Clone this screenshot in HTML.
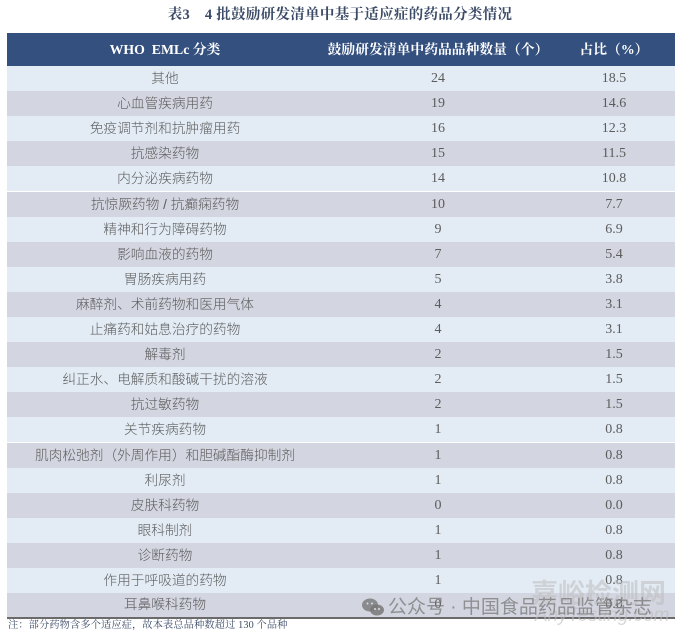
<!DOCTYPE html>
<html><head><meta charset="utf-8">
<style>
html,body{margin:0;padding:0;background:#fff;}
body{width:680px;height:636px;position:relative;overflow:hidden;font-family:"Liberation Sans","Noto Sans CJK SC",sans-serif;}
.title{position:absolute;left:0;width:680px;top:4px;text-align:center;font-family:"Liberation Serif","Noto Serif CJK SC",serif;font-weight:bold;font-size:14.5px;color:#3b4a66;line-height:22px;letter-spacing:0.3px;}
.hdr{position:absolute;left:7px;top:33px;width:668px;height:33px;background:#34507f;}
.hc{position:absolute;top:0;height:33px;line-height:33px;color:#fff;font-family:"Liberation Serif","Noto Serif CJK SC",serif;font-weight:bold;font-size:13.8px;text-align:center;white-space:nowrap;}
.row{position:absolute;left:7px;width:668px;}
.odd{background:#e3ecf5;}
.even{background:#d3d5e0;}
.c{position:absolute;top:0;text-align:center;white-space:nowrap;color:#5c5c5c;}
.c1{left:0;width:316px;font-size:13.7px;font-family:"Liberation Sans","Noto Sans CJK SC",sans-serif;font-weight:300;}
.c2{left:316px;width:230px;font-size:14px;font-family:"Liberation Serif",serif;}
.c3{left:546px;width:122px;font-size:14px;font-family:"Liberation Serif",serif;}
.bl{position:absolute;left:7px;top:617px;width:668px;height:1.5px;background:#6a6a6a;}
.note{position:absolute;left:8px;top:619px;font-size:10.2px;line-height:14px;color:#3b4a66;font-family:"Liberation Serif","Noto Serif CJK SC",serif;white-space:nowrap;letter-spacing:0.15px;}
.wm1{position:absolute;left:531px;top:572px;font-size:27px;color:rgba(190,190,190,0.55);font-family:"Liberation Sans","Noto Sans CJK SC",sans-serif;font-weight:bold;white-space:nowrap;letter-spacing:0px;}
.wm2{position:absolute;left:535px;top:605px;font-size:19px;color:rgba(190,190,190,0.6);font-family:"Liberation Sans",sans-serif;font-style:italic;white-space:nowrap;}
.wm3{position:absolute;left:388px;top:595px;font-size:19px;line-height:26px;color:rgba(120,120,120,0.75);font-family:"Liberation Sans","Noto Sans CJK SC",sans-serif;white-space:nowrap;}
</style></head><body>
<div class="title">表3　4 批鼓励研发清单中基于适应症的药品分类情况</div>
<div class="hdr">
  <div class="hc" style="left:0;width:316px;">WHO&nbsp;&nbsp;EMLc 分类</div>
  <div class="hc" style="left:316px;width:230px;">鼓励研发清单中药品品种数量（个）</div>
  <div class="hc" style="left:546px;width:122px;">占比（%）</div>
</div>
<div class="row odd" style="top:66px;height:25.1px;line-height:25.1px;"><div class="c c1">其他</div><div class="c c2">24</div><div class="c c3">18.5</div></div>
<div class="row even" style="top:91.1px;height:25.1px;line-height:25.1px;"><div class="c c1">心血管疾病用药</div><div class="c c2">19</div><div class="c c3">14.6</div></div>
<div class="row odd" style="top:116.2px;height:25.1px;line-height:25.1px;"><div class="c c1">免疫调节剂和抗肿瘤用药</div><div class="c c2">16</div><div class="c c3">12.3</div></div>
<div class="row even" style="top:141.3px;height:25.1px;line-height:25.1px;"><div class="c c1">抗感染药物</div><div class="c c2">15</div><div class="c c3">11.5</div></div>
<div class="row odd" style="top:166.4px;height:25.1px;line-height:25.1px;"><div class="c c1">内分泌疾病药物</div><div class="c c2">14</div><div class="c c3">10.8</div></div>
<div class="row even" style="top:191.5px;height:25.1px;line-height:25.1px;"><div class="c c1">抗惊厥药物 / 抗癫痫药物</div><div class="c c2">10</div><div class="c c3">7.7</div></div>
<div class="row odd" style="top:216.6px;height:25.1px;line-height:25.1px;"><div class="c c1">精神和行为障碍药物</div><div class="c c2">9</div><div class="c c3">6.9</div></div>
<div class="row even" style="top:241.7px;height:25.1px;line-height:25.1px;"><div class="c c1">影响血液的药物</div><div class="c c2">7</div><div class="c c3">5.4</div></div>
<div class="row odd" style="top:266.8px;height:25.1px;line-height:25.1px;"><div class="c c1">胃肠疾病用药</div><div class="c c2">5</div><div class="c c3">3.8</div></div>
<div class="row even" style="top:291.9px;height:25.1px;line-height:25.1px;"><div class="c c1">麻醉剂、术前药物和医用气体</div><div class="c c2">4</div><div class="c c3">3.1</div></div>
<div class="row odd" style="top:317px;height:25.1px;line-height:25.1px;"><div class="c c1">止痛药和姑息治疗的药物</div><div class="c c2">4</div><div class="c c3">3.1</div></div>
<div class="row even" style="top:342.1px;height:25.1px;line-height:25.1px;"><div class="c c1">解毒剂</div><div class="c c2">2</div><div class="c c3">1.5</div></div>
<div class="row odd" style="top:367.2px;height:25.1px;line-height:25.1px;"><div class="c c1">纠正水、电解质和酸碱干扰的溶液</div><div class="c c2">2</div><div class="c c3">1.5</div></div>
<div class="row even" style="top:392.3px;height:25.1px;line-height:25.1px;"><div class="c c1">抗过敏药物</div><div class="c c2">2</div><div class="c c3">1.5</div></div>
<div class="row odd" style="top:417.4px;height:25.1px;line-height:25.1px;"><div class="c c1">关节疾病药物</div><div class="c c2">1</div><div class="c c3">0.8</div></div>
<div class="row even" style="top:442.5px;height:25.1px;line-height:25.1px;"><div class="c c1">肌肉松弛剂（外周作用）和胆碱酯酶抑制剂</div><div class="c c2">1</div><div class="c c3">0.8</div></div>
<div class="row odd" style="top:467.6px;height:25.1px;line-height:25.1px;"><div class="c c1">利尿剂</div><div class="c c2">1</div><div class="c c3">0.8</div></div>
<div class="row even" style="top:492.7px;height:25.1px;line-height:25.1px;"><div class="c c1">皮肤科药物</div><div class="c c2">0</div><div class="c c3">0.0</div></div>
<div class="row odd" style="top:517.8px;height:25.1px;line-height:25.1px;"><div class="c c1">眼科制剂</div><div class="c c2">1</div><div class="c c3">0.8</div></div>
<div class="row even" style="top:542.9px;height:25.1px;line-height:25.1px;"><div class="c c1">诊断药物</div><div class="c c2">1</div><div class="c c3">0.8</div></div>
<div class="row odd" style="top:568px;height:25.1px;line-height:25.1px;"><div class="c c1">作用于呼吸道的药物</div><div class="c c2">1</div><div class="c c3">0.8</div></div>
<div class="row even" style="top:593.1px;height:24.4px;line-height:24.4px;"><div class="c c1">耳鼻喉科药物</div><div class="c c2">0</div><div class="c c3">0.0</div></div>
<div class="bl"></div>
<div class="wm1">嘉峪检测网</div>
<div class="wm2">AnyTesting.com</div>
<svg style="position:absolute;left:361px;top:597px;" width="24" height="20" viewBox="0 0 24 20">
  <ellipse cx="9" cy="8" rx="8" ry="6.5" fill="rgba(120,120,120,0.8)"/>
  <ellipse cx="16" cy="13" rx="7" ry="5.5" fill="rgba(120,120,120,0.85)"/>
  <circle cx="14" cy="12" r="1" fill="#ddd"/><circle cx="18" cy="12" r="1" fill="#ddd"/>
  <circle cx="6.5" cy="6.5" r="1" fill="#ddd"/><circle cx="11" cy="6.5" r="1" fill="#ddd"/>
</svg>
<div class="wm3">公众号 · 中国食品药品监管杂志</div>
<div class="note">注：部分药物含多个适应症，故本表总品种数超过 130 个品种</div>
</body></html>
